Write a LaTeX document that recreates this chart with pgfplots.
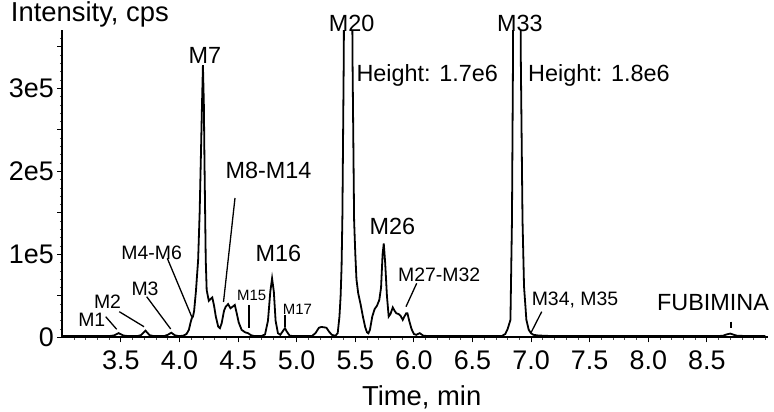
\documentclass[border=0pt]{standalone}
\usepackage{fontspec}
\setmainfont{Liberation Sans}
\usepackage{pgfplots}
\usepackage{pgfplotstable}
\pgfplotsset{compat=1.18}
\newcommand{\ftick}{\fontsize{27}{30}\selectfont}
\newcommand{\flab}{\fontsize{27.5}{30}\selectfont}
\newcommand{\fbig}{\fontsize{23.5}{26}\selectfont}
\newcommand{\fmed}{\fontsize{19.5}{22}\selectfont}
\newcommand{\fsmall}{\fontsize{15}{17}\selectfont}

\pgfplotstableread{
t I
3.00 1500
3.40 1500
3.44 2200
3.48 5000
3.52 2200
3.56 1500
3.64 1500
3.67 2500
3.71 8000
3.745 2500
3.78 1500
3.87 1500
3.90 3000
3.93 5500
3.96 2500
3.99 1500
4.03 1800
4.06 4000
4.08 9000
4.095 18000
4.105 23000
4.115 25000
4.125 32000
4.14 55000
4.159 93000
4.172 150000
4.182 214000
4.192 280000
4.200 328000
4.208 280000
4.213 214000
4.224 93000
4.232 57000
4.25 44000
4.265 46000
4.28 48000
4.295 38000
4.31 25000
4.33 13000
4.345 11000
4.36 17000
4.38 32000
4.395 37000
4.415 40000
4.435 35000
4.455 37000
4.472 39000
4.49 28000
4.505 18000
4.53 9000
4.56 6000
4.585 5000
4.61 2500
4.64 1500
4.70 1500
4.73 3500
4.755 20000
4.775 55000
4.79 71000
4.805 55000
4.82 20000
4.84 5000
4.86 3000
4.885 8000
4.90 11000
4.915 7000
4.94 2000
4.97 1500
5.13 1500
5.16 5000
5.19 11500
5.21 12500
5.235 12000
5.254 11500
5.275 7000
5.30 3000
5.33 1800
5.35 5000
5.365 25000
5.375 50000
5.383 85000
5.39 145000
5.402 342000
5.44 1700000
5.476 342000
5.49 141000
5.50 101000
5.51 70000
5.525 53000
5.545 40000
5.565 25000
5.585 12000
5.60 6000
5.612 4800
5.625 9000
5.645 25000
5.665 34000
5.685 38000
5.705 45000
5.72 60000
5.733 100000
5.743 113000
5.755 90000
5.77 50000
5.785 25000
5.80 28000
5.82 36000
5.835 32000
5.85 29000
5.87 28000
5.886 26000
5.905 21000
5.915 24000
5.935 29000
5.945 29000
5.96 20000
5.98 10000
6.00 4000
6.02 3000
6.05 5000
6.08 2000
6.12 1500
6.75 1500
6.78 4000
6.80 10000
6.824 21000
6.837 141000
6.846 342000
6.88 1800000
6.912 342000
6.927 141000
6.94 61000
6.96 21000
6.98 9000
7.00 4800
7.02 3000
7.06 2200
7.12 1800
7.18 1500
8.60 1500
8.64 2000
8.67 3500
8.70 4500
8.73 3000
8.76 1800
8.80 1700
8.83 1500
9.00 1500
}\chrom

\begin{document}
\begin{tikzpicture}
\path[use as bounding box] (-62.3bp,-74.7bp) rectangle (711.7bp,337.3bp);
\begin{axis}[
  at={(0,0)}, anchor=south west,
  scale only axis, width=705.5bp, height=307.1bp,
  xmin=3, xmax=9.02, ymin=0, ymax=370000,
  axis x line*=bottom, axis y line*=left,
  axis line style={line width=1.6bp},
  xtick={3.5,4,4.5,5,5.5,6,6.5,7,7.5,8,8.5},
  xticklabels={3.5,4.0,4.5,5.0,5.5,6.0,6.5,7.0,7.5,8.0,8.5},
  minor xtick={3.1,3.2,3.3,3.4,3.6,3.7,3.8,3.9,4.1,4.2,4.3,4.4,4.6,4.7,4.8,4.9,5.1,5.2,5.3,5.4,5.6,5.7,5.8,5.9,6.1,6.2,6.3,6.4,6.6,6.7,6.8,6.9,7.1,7.2,7.3,7.4,7.6,7.7,7.8,7.9,8.1,8.2,8.3,8.4,8.6,8.7,8.8,8.9,9.0},
  ytick={0,50000,100000,150000,200000,250000,300000,350000},
  yticklabels={0,,1e5,,2e5,,3e5,},
  minor ytick={10000,20000,30000,40000,60000,70000,80000,90000,110000,120000,130000,140000,160000,170000,180000,190000,210000,220000,230000,240000,260000,270000,280000,290000,310000,320000,330000,340000,360000},
  scaled y ticks=false,
  tick align=outside,
  major tick length=5bp, minor tick length=2.5bp,
  tick style={line width=1.1bp, black},
  minor tick style={line width=0.8bp, black!70},
  xticklabel style={font=\ftick, yshift=-5bp},
  yticklabel style={font=\ftick},
  clip mode=individual,
]
\addplot[line width=1.8bp, black] table[x=t,y=I]{\chrom};
\end{axis}
\begin{scope}[x=1bp,y=1bp]
\node[anchor=base west, inner sep=0, font=\flab] at (-51.5,315.8) {Intensity, cps};
\node[anchor=base, inner sep=0, font=\flab] at (359.4,-67.7) {Time, min};
% peak labels
\tikzset{lbl/.style={anchor=base, inner sep=0}}
\node[lbl, font=\fmed] at (29.5,11.3) {M1};
\node[lbl, font=\fmed] at (45.2,28.8) {M2};
\node[lbl, font=\fmed] at (82.7,42.3) {M3};
\node[lbl, font=\fmed] at (89.4,78) {M4-M6};
\node[lbl, font=\fbig] at (142.7,274) {M7};
\node[lbl, font=\fbig] at (206.2,159) {M8-M14};
\node[lbl, font=\fsmall] at (189.4,36.6) {M15};
\node[lbl, font=\fbig] at (216,75.6) {M16};
\node[lbl, font=\fsmall] at (235.2,23.3) {M17};
\node[lbl, font=\fbig] at (289.4,306.3) {M20};
\node[anchor=base west, inner sep=0, font=\fbig] at (294,255.6) {Height: 1.7e6};
\node[lbl, font=\fbig] at (330.2,103.3) {M26};
\node[lbl, font=\fmed] at (376.9,55.6) {M27-M32};
\node[lbl, font=\fbig] at (457.7,306.3) {M33};
\node[anchor=base west, inner sep=0, font=\fbig] at (465.7,255.6) {Height: 1.8e6};
\node[lbl, font=\fmed] at (512.7,32.3) {M34, M35};
\node[lbl, font=\fbig] at (650.7,27.3) {FUBIMINA};
% pointer lines
\begin{scope}[line width=1.3bp]
\draw (43.4,20.6) -- (54.4,8);
\draw (57,25.6) -- (81.7,10.6);
\draw (84.4,40.6) -- (108.4,8.3);
\draw (105,79) -- (129.4,20.6);
\draw (172.7,139.3) -- (161.2,35.3);
\draw (186.7,32.3) -- (186.7,9);
\draw (222.7,22.3) -- (222.7,10.6);
\draw (354.4,54) -- (343.7,30.6);
\draw (479.4,25.6) -- (468.4,4);
\draw (668.7,15.6) -- (668.7,9);
\end{scope}
\end{scope}
\end{tikzpicture}
\end{document}
